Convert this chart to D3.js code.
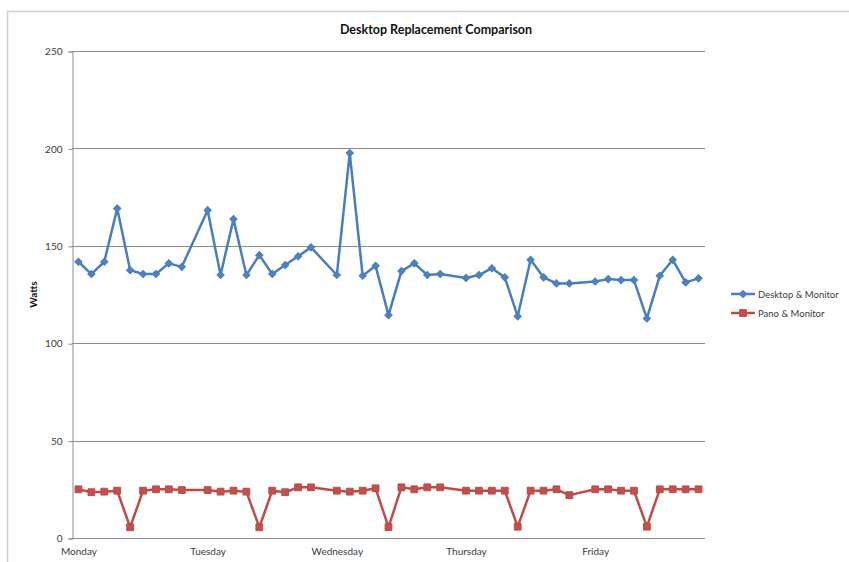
<!DOCTYPE html>
<html>
<head>
<meta charset="utf-8">
<script src="https://cdn.jsdelivr.net/npm/d3@7/dist/d3.min.js"></script>
<style>
  html, body { margin: 0; padding: 0; background: #fff; }
  svg { display: block; }
  text { font-family: Lato, "Open Sans", "DejaVu Sans", sans-serif; }
</style>
</head>
<body>
<svg id="chart" width="849" height="562"></svg>
<script>
// Readings are taken in slots of ten per weekday; the tenth slot of each day is empty.
const dayLabels = ["Monday", "Tuesday", "Wednesday", "Thursday", "Friday"];
const slotsPerDay = 10;
const slotCount = 49;

const seriesNames = ["Desktop & Monitor", "Pano & Monitor"];

const desktopWatts = [
  141.8, 135.5, 141.8, 169.2, 137.5, 135.5, 135.5, 141.0, 139.2, null,
  168.3, 135.0, 163.7, 135.0, 145.2, 135.5, 140.1, 144.6, 149.2, null,
  135.0, 197.6, 134.6, 139.7, 114.4, 137.0, 141.0, 135.0, 135.5, null,
  133.5, 135.0, 138.5, 133.8, 113.8, 142.8, 133.8, 130.7, 130.7, null,
  131.7, 132.9, 132.4, 132.4, 112.7, 134.6, 142.8, 131.2, 133.3
];

const panoWatts = [
  25.0, 23.5, 23.8, 24.3, 5.5, 24.3, 25.0, 25.0, 24.6, null,
  24.6, 23.8, 24.3, 23.8, 5.5, 24.3, 23.5, 26.0, 26.0, null,
  24.3, 23.8, 24.3, 25.5, 5.6, 26.0, 25.0, 26.0, 26.0, null,
  24.3, 24.3, 24.3, 24.3, 5.8, 24.3, 24.3, 25.0, 22.0, null,
  25.0, 25.0, 24.3, 24.3, 5.8, 25.0, 25.0, 25.0, 25.0
];

const yTicks = [0, 50, 100, 150, 200, 250];

const svg = d3.select("#chart");

// chart area frame
svg.append("rect")
  .attr("x", 7.5).attr("y", 11.5)
  .attr("width", 860).attr("height", 570)
  .attr("fill", "#fff")
  .attr("stroke", "#cfcfcf")
  .attr("stroke-width", 1.5);

const plot = { left: 72, right: 705, top: 51, bottom: 538 };

const slots = d3.range(slotCount);
const x = d3.scalePoint()
  .domain(slots)
  .range([plot.left, plot.right])
  .padding(0.5);

const y = d3.scaleLinear()
  .domain([0, 250])
  .range([plot.bottom, plot.top]);

// horizontal gridlines
svg.append("g")
  .selectAll("line")
  .data(yTicks.filter(t => t > 0))
  .join("line")
  .attr("x1", plot.left).attr("x2", plot.right)
  .attr("y1", d => Math.round(y(d)) + 0.5)
  .attr("y2", d => Math.round(y(d)) + 0.5)
  .attr("stroke", "#8c8c8c")
  .attr("stroke-width", 1);

// y axis
const yAxis = d3.axisLeft(y)
  .tickValues(yTicks)
  .tickSize(4)
  .tickPadding(6)
  .tickFormat(d3.format("d"));

const yg = svg.append("g")
  .attr("transform", `translate(${plot.left + 0.5},0.5)`)
  .call(yAxis);
yg.select(".domain").attr("stroke", "#8c8c8c");
yg.selectAll(".tick line").attr("stroke", "#8c8c8c");
yg.selectAll(".tick text")
  .attr("font-size", 10)
  .attr("fill", "#3a3a3a");

// x axis with a day label at the first slot of each day
const xAxis = d3.axisBottom(x)
  .tickValues(slots.filter(s => s % slotsPerDay === 0))
  .tickSize(0)
  .tickPadding(9)
  .tickFormat(s => dayLabels[s / slotsPerDay]);

const xg = svg.append("g")
  .attr("transform", `translate(0,${plot.bottom + 0.5})`)
  .call(xAxis);
xg.select(".domain")
  .attr("stroke", "#8c8c8c")
  .attr("d", `M${plot.left},0H${plot.right}`);
xg.selectAll(".tick text")
  .attr("font-size", 10)
  .attr("fill", "#3a3a3a");

// titles
svg.append("text")
  .attr("x", 436).attr("y", 34)
  .attr("text-anchor", "middle")
  .attr("font-size", 12.5)
  .attr("font-weight", "bold")
  .attr("fill", "#111")
  .text("Desktop Replacement Comparison");

svg.append("text")
  .attr("transform", `translate(37,${(plot.top + plot.bottom) / 2}) rotate(-90)`)
  .attr("text-anchor", "middle")
  .attr("font-size", 10)
  .attr("font-weight", "bold")
  .attr("fill", "#111")
  .text("Watts");

// series: diamonds are squares turned 45 degrees
const series = [
  { name: seriesNames[0], values: desktopWatts, line: "#4A7EBB", fill: "#4F81BD", symbol: d3.symbolSquare, size: 26, rotate: 45 },
  { name: seriesNames[1], values: panoWatts, line: "#BE4B48", fill: "#C0504D", symbol: d3.symbolSquare, size: 46, rotate: 0 }
];

const line = d3.line()
  .x(d => x(d.slot))
  .y(d => y(d.v));

series.forEach(s => {
  const pts = s.values
    .map((v, slot) => ({ slot, v }))
    .filter(d => d.v !== null);

  svg.append("path")
    .datum(pts)
    .attr("d", line)
    .attr("fill", "none")
    .attr("stroke", s.line)
    .attr("stroke-width", 2.5)
    .attr("stroke-linejoin", "round");

  svg.append("g")
    .selectAll("path")
    .data(pts)
    .join("path")
    .attr("transform", d => `translate(${x(d.slot)},${y(d.v)}) rotate(${s.rotate})`)
    .attr("d", d3.symbol().type(s.symbol).size(s.size))
    .attr("fill", s.fill)
    .attr("stroke", s.line)
    .attr("stroke-width", 1);
});

// legend
const legend = svg.append("g").attr("transform", "translate(731,294)");
series.forEach((s, i) => {
  const g = legend.append("g").attr("transform", `translate(0,${i * 19})`);
  g.append("line")
    .attr("x1", 0).attr("x2", 24)
    .attr("stroke", s.line)
    .attr("stroke-width", 2.5);
  g.append("path")
    .attr("transform", `translate(12,0) rotate(${s.rotate})`)
    .attr("d", d3.symbol().type(s.symbol).size(s.size))
    .attr("fill", s.fill)
    .attr("stroke", s.line);
  g.append("text")
    .attr("x", 27).attr("y", 3.5)
    .attr("font-size", 9.5)
    .attr("fill", "#3a3a3a")
    .text(s.name);
});
</script>
</body>
</html>
